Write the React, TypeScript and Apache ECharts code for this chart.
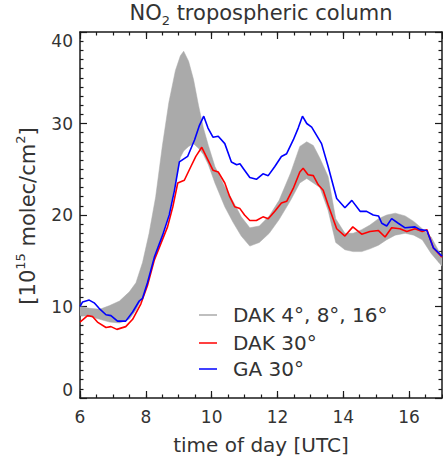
import React, { useEffect, useRef } from "react";
import * as echarts from "echarts";

const FONT = "'DejaVu Sans', sans-serif";
const TEXT = "#333333";
const AXIS = "#1a1a1a";

// Grey band: DAK 4°, 8°, 16° (lower / upper envelope)
const bandT = [6.0, 6.3, 6.6, 6.9, 7.2, 7.5, 7.7, 7.9, 8.1, 8.3, 8.5, 8.7, 8.9, 9.05, 9.15, 9.3, 9.45, 9.6, 9.75, 9.9, 10.1, 10.4, 10.65, 10.9, 11.16, 11.45, 11.75, 12.05, 12.4, 12.68, 12.89, 13.09, 13.29, 13.54, 13.77, 14.05, 14.3, 14.56, 14.81, 15.07, 15.32, 15.58, 15.88, 16.14, 16.4, 16.67, 17.0];
const bandLo = [9.0, 8.9, 8.6, 8.3, 8.2, 8.6, 9.6, 11.0, 13.0, 15.8, 17.9, 20.2, 23.5, 26.3, 27.0, 27.5, 27.8, 27.3, 26.6, 25.5, 23.5, 20.9, 19.2, 17.7, 16.6, 17.0, 18.0, 19.5, 21.6, 23.5, 24.0, 23.5, 23.0, 20.5, 17.0, 16.2, 16.0, 16.0, 16.3, 16.7, 17.3, 17.8, 18.0, 17.8, 17.3, 15.8, 14.4];
const bandHi = [10.0, 9.8, 9.7, 10.1, 10.6, 11.6, 12.6, 14.8, 18.0, 22.0, 27.5, 32.3, 35.8, 37.4, 37.9, 36.8, 34.8, 32.0, 29.5, 27.6, 25.3, 23.1, 21.5, 19.8, 18.6, 18.8, 19.9, 21.6, 24.6, 27.5, 28.0, 27.6, 26.2, 24.2, 19.6, 18.0, 18.0, 18.4, 18.9, 19.6, 20.0, 20.2, 19.9, 19.3, 18.5, 17.6, 15.4];

// DAK 30°
const redT = [6.0, 6.23, 6.38, 6.53, 6.79, 6.94, 7.12, 7.39, 7.6, 7.85, 8.05, 8.26, 8.46, 8.66, 8.82, 8.97, 9.17, 9.37, 9.52, 9.7, 9.89, 10.04, 10.2, 10.4, 10.55, 10.7, 10.86, 11.0, 11.16, 11.36, 11.56, 11.72, 11.92, 12.12, 12.28, 12.48, 12.68, 12.78, 12.93, 13.09, 13.24, 13.39, 13.54, 13.8, 14.05, 14.29, 14.56, 14.81, 15.07, 15.27, 15.47, 15.72, 15.93, 16.18, 16.4, 16.54, 16.74, 17.0];
const redV = [8.3, 9.0, 8.9, 8.3, 7.7, 7.8, 7.5, 7.8, 8.6, 10.3, 12.3, 15.1, 16.9, 18.7, 20.9, 23.5, 23.8, 25.3, 26.4, 27.4, 26.0, 24.9, 24.7, 23.5, 22.0, 20.9, 20.7, 20.0, 19.4, 19.4, 19.8, 19.6, 20.4, 21.3, 21.5, 22.9, 24.7, 25.1, 24.4, 24.3, 23.3, 22.7, 21.1, 18.5, 17.7, 18.7, 17.9, 18.2, 18.3, 17.6, 18.6, 18.5, 18.2, 18.5, 18.2, 18.4, 16.4, 15.4];

// GA 30°
const blueT = [6.0, 6.08, 6.28, 6.43, 6.58, 6.79, 6.94, 7.14, 7.39, 7.6, 7.8, 7.9, 8.05, 8.26, 8.51, 8.71, 8.87, 9.02, 9.27, 9.48, 9.63, 9.76, 9.89, 10.04, 10.2, 10.4, 10.6, 10.76, 10.86, 11.0, 11.16, 11.36, 11.56, 11.72, 11.92, 12.12, 12.28, 12.48, 12.63, 12.76, 12.89, 13.04, 13.19, 13.34, 13.54, 13.8, 14.05, 14.26, 14.51, 14.71, 14.91, 15.07, 15.17, 15.32, 15.47, 15.67, 15.88, 16.18, 16.33, 16.54, 16.74, 17.0];
const blueV = [10.0, 10.5, 10.7, 10.4, 9.8, 9.1, 9.0, 8.4, 8.4, 9.4, 10.6, 10.9, 12.6, 15.4, 17.8, 20.0, 22.7, 25.8, 26.4, 28.2, 29.8, 30.8, 29.5, 28.5, 28.6, 27.8, 25.8, 25.5, 25.6, 24.9, 24.1, 23.9, 24.5, 24.3, 25.3, 26.4, 26.7, 28.2, 29.5, 30.8, 30.0, 29.6, 28.7, 27.8, 25.3, 21.8, 20.8, 21.6, 20.4, 20.4, 20.0, 19.9, 19.1, 18.8, 19.6, 19.1, 18.6, 18.7, 18.4, 18.3, 16.4, 15.5];

const legendLabels = ["DAK 4°, 8°, 16°", "DAK 30°", "GA 30°"];
const legendColors = ["#aaaaaa", "#ff0000", "#0000ff"];

const X_MIN = 6;
const X_MAX = 17;
const Y_MIN = 0;
const Y_MAX = 40;

export default function App() {
  const ref = useRef<HTMLDivElement>(null);

  useEffect(() => {
    if (!ref.current) return;
    const chart = echarts.init(ref.current, null, { renderer: "svg" });

    const xBase = (position: string, interval: number, len: number, labels: boolean, line: boolean) => ({
      type: "value",
      position,
      min: X_MIN,
      max: X_MAX,
      interval,
      axisLine: { show: line, lineStyle: { color: AXIS, width: 1.5 } },
      axisTick: { show: true, inside: true, length: len, lineStyle: { color: AXIS, width: 1.2 } },
      splitLine: { show: false },
      axisLabel: labels
        ? { show: true, fontFamily: FONT, fontSize: 17, color: TEXT, margin: 10, showMaxLabel: false }
        : { show: false },
    });

    const yBase = (position: string, labels: boolean) => ({
      type: "value",
      position,
      min: Y_MIN,
      max: Y_MAX,
      interval: 10,
      axisLine: { show: true, lineStyle: { color: AXIS, width: 1.5 } },
      axisTick: { show: true, inside: true, length: 7, lineStyle: { color: AXIS, width: 1.2 } },
      minorTick: { show: true, splitNumber: 10, length: 3.5, lineStyle: { color: AXIS, width: 1.2 } },
      splitLine: { show: false },
      minorSplitLine: { show: false },
      axisLabel: labels
        ? {
            show: true,
            fontFamily: FONT,
            fontSize: 17,
            color: TEXT,
            margin: 7,
            verticalAlignMinLabel: "bottom",
            verticalAlignMaxLabel: "top",
          }
        : { show: false },
    });

    const legendGraphics: any[] = [];
    const legendY = [315, 343, 369];
    legendLabels.forEach((label, i) => {
      legendGraphics.push({
        type: "line",
        shape: { x1: 199, y1: legendY[i], x2: 217, y2: legendY[i] },
        style: { stroke: legendColors[i], lineWidth: 1.5 },
        z: 10,
      });
      legendGraphics.push({
        type: "text",
        x: 233,
        y: legendY[i],
        style: {
          text: label,
          fontFamily: FONT,
          fontSize: 20,
          fill: TEXT,
          textAlign: "left",
          textVerticalAlign: "middle",
        },
        z: 10,
      });
    });

    const option: any = {
      animation: false,
      backgroundColor: "#ffffff",
      grid: { left: 80, right: 1, top: 32, bottom: 65, containLabel: false },
      xAxis: [
        xBase("bottom", 2, 7, true, true),
        xBase("bottom", 0.5, 3.5, false, false),
        xBase("top", 2, 7, false, true),
        xBase("top", 0.5, 3.5, false, false),
      ],
      yAxis: [yBase("left", true), yBase("right", false)],
      graphic: [
        {
          type: "text",
          x: 261,
          y: 13,
          style: {
            text: "{t|NO}{s|2}{t| tropospheric column}",
            textAlign: "center",
            textVerticalAlign: "middle",
            rich: {
              t: { fontFamily: FONT, fontSize: 21, fill: TEXT, color: TEXT, lineHeight: 28, verticalAlign: "middle" },
              s: { fontFamily: FONT, fontSize: 13, fill: TEXT, color: TEXT, verticalAlign: "bottom" },
            },
          },
        },
        {
          type: "text",
          x: 28,
          y: 216,
          rotation: Math.PI / 2,
          style: {
            text: "{t|[10}{s|15}{t| molec/cm}{s|2}{t|]}",
            textAlign: "center",
            textVerticalAlign: "middle",
            rich: {
              t: { fontFamily: FONT, fontSize: 21, fill: TEXT, color: TEXT, lineHeight: 28, verticalAlign: "middle" },
              s: { fontFamily: FONT, fontSize: 13, fill: TEXT, color: TEXT, verticalAlign: "top" },
            },
          },
        },
        {
          type: "text",
          x: 261,
          y: 445,
          style: {
            text: "time of day [UTC]",
            fontFamily: FONT,
            fontSize: 20,
            fill: TEXT,
            textAlign: "center",
            textVerticalAlign: "middle",
          },
        },
        ...legendGraphics,
      ],
      series: [
        {
          name: "DAK 4°, 8°, 16°",
          type: "custom",
          xAxisIndex: 0,
          yAxisIndex: 0,
          silent: true,
          z: 1,
          clip: true,
          data: bandT.map((t, i) => [t, bandLo[i], bandHi[i]]),
          encode: { x: 0, y: [1, 2] },
          renderItem: (params: any, api: any) => {
            if (params.dataIndex !== 0) return null;
            const pts: number[][] = [];
            for (let i = 0; i < bandT.length; i++) pts.push(api.coord([bandT[i], bandHi[i]]));
            for (let i = bandT.length - 1; i >= 0; i--) pts.push(api.coord([bandT[i], bandLo[i]]));
            return {
              type: "polygon",
              shape: { points: pts },
              style: { fill: "#aaaaaa", stroke: "#aaaaaa", lineWidth: 0.5 },
            };
          },
        },
        {
          name: "DAK 30°",
          type: "line",
          xAxisIndex: 0,
          yAxisIndex: 0,
          z: 3,
          symbol: "none",
          showSymbol: false,
          data: redT.map((t, i) => [t, redV[i]]),
          lineStyle: { color: "#ff0000", width: 1.6 },
          itemStyle: { color: "#ff0000" },
        },
        {
          name: "GA 30°",
          type: "line",
          xAxisIndex: 0,
          yAxisIndex: 0,
          z: 4,
          symbol: "none",
          showSymbol: false,
          data: blueT.map((t, i) => [t, blueV[i]]),
          lineStyle: { color: "#0000ff", width: 1.6 },
          itemStyle: { color: "#0000ff" },
        },
      ],
    };

    chart.setOption(option);
    return () => {
      chart.dispose();
    };
  }, []);

  return (
    <div
      ref={ref}
      style={{ position: "absolute", left: 0, top: 0, width: 443, height: 463, background: "#fff" }}
    />
  );
}
